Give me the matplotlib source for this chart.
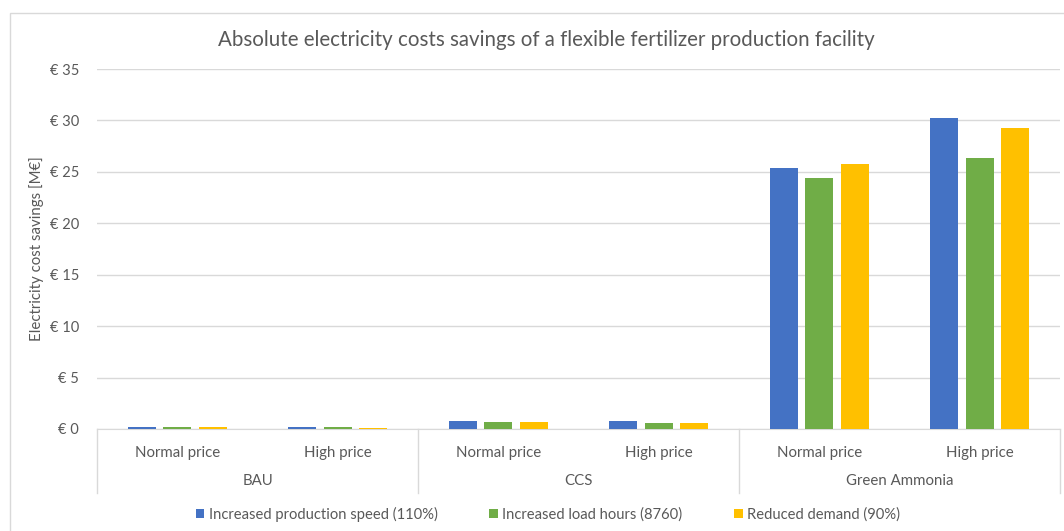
import numpy as np
import matplotlib.pyplot as plt
from matplotlib.patches import Rectangle

plt.rcParams['font.family'] = ['Lato', 'DejaVu Sans']

# данные
groups = ['BAU', 'CCS', 'Green Ammonia']
prices = ['Normal price', 'High price']
series = ['Increased production speed (110%)', 'Increased load hours (8760)', 'Reduced demand (90%)']
speed = [0.15, 0.15, 0.73, 0.73, 25.35, 30.2]
load_hours = [0.15, 0.15, 0.72, 0.6, 24.4, 26.3]
demand = [0.15, 0.12, 0.72, 0.6, 25.75, 29.3]
colors = ['#4472c4', '#70ad47', '#ffc000']
text_col = '#595959'
grid_col = '#d9d9d9'

fig = plt.figure(figsize=(10.64, 5.31), dpi=100)
ax = fig.add_axes([97 / 1064, 102 / 531, 963 / 1064, 360 / 531])

# рамка вокруг всей диаграммы
fig.patches.append(Rectangle((10 / 1064, -0.1), 1.2, 0.1 + 518 / 531, transform=fig.transFigure,
                             fill=False, edgecolor=grid_col, lw=1))

x = np.arange(len(speed))
w = 0.175
step = 0.222
for i, vals in enumerate([speed, load_hours, demand]):
    ax.bar(x + (i - 1) * step, vals, w, color=colors[i], label=series[i], zorder=3)

ax.set_xlim(-0.5, len(speed) - 0.5)
ax.set_ylim(0, 35)
ax.set_yticks(range(0, 36, 5))
ax.set_yticklabels([f'€ {v}' for v in range(0, 36, 5)], color=text_col, fontsize=10.5)
ax.yaxis.grid(True, color=grid_col, lw=1, zorder=0)
ax.tick_params(axis='y', length=0, pad=13)

ax.set_xticks(x)
ax.set_xticklabels(prices * len(groups), color=text_col, fontsize=10.8)
ax.tick_params(axis='x', length=0, pad=12)

for s in ['top', 'right', 'left']:
    ax.spines[s].set_visible(False)
ax.spines['bottom'].set_color(grid_col)

# разделители групп и подписи групп
trans = ax.get_xaxis_transform()
for xs in [-0.5, 1.5, 3.5, 5.5]:
    ax.plot([xs, xs], [0, -64 / 360], color=grid_col, lw=1, transform=trans, clip_on=False)
for j, g in enumerate(groups):
    ax.text(2 * j + 0.5, -52 / 360, g, transform=trans, ha='center', va='center',
            color=text_col, fontsize=10.8)

ax.set_ylabel('Electricity cost savings [M€]', color=text_col, fontsize=10.8)
ax.yaxis.set_label_coords(-53 / 963, 0.5)
fig.text(546 / 1064, 1 - 40 / 531, 'Absolute electricity costs savings of a flexible fertilizer production facility',
         ha='center', va='center', color=text_col, fontsize=14.8)

leg = fig.legend(loc='center', bbox_to_anchor=(548 / 1064, 17 / 531), ncol=3, frameon=False,
                 fontsize=10.6, handlelength=0.6, handleheight=0.6, handletextpad=0.3, columnspacing=3.5)
for t in leg.get_texts():
    t.set_color(text_col)

fig.savefig('out.png', dpi=100)
